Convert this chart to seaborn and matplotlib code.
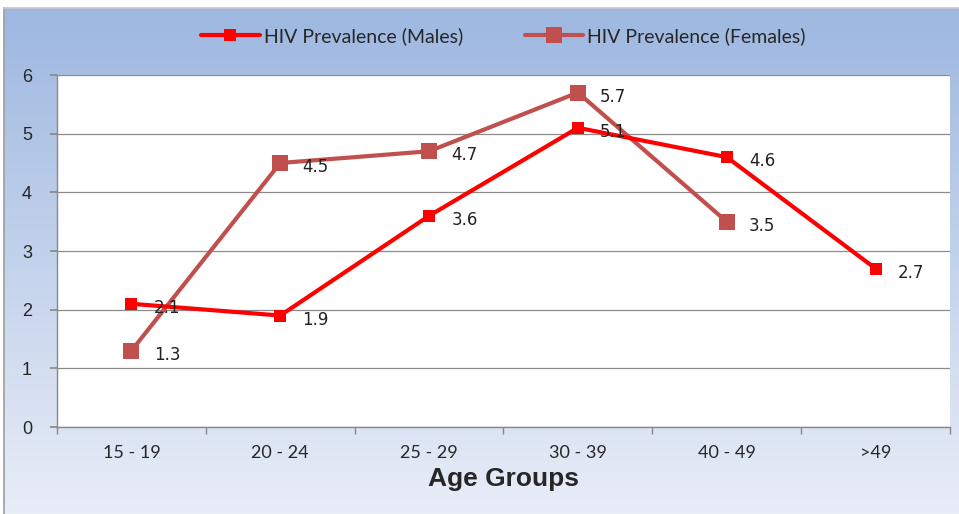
import numpy as np
import pandas as pd
import matplotlib
matplotlib.use("Agg")
import matplotlib.pyplot as plt
from matplotlib.ticker import FixedLocator
import seaborn as sns

# data
age_groups = ["15 - 19", "20 - 24", "25 - 29", "30 - 39", "40 - 49", ">49"]
males = [2.1, 1.9, 3.6, 5.1, 4.6, 2.7]
females = [1.3, 4.5, 4.7, 5.7, 3.5, np.nan]
y_ticks = [0, 1, 2, 3, 4, 5, 6]

MALE_COLOR = "#FF0000"
FEMALE_COLOR = "#C0504D"

sns.set_theme(style="white")
plt.rcParams["font.family"] = ["DejaVu Sans"]

fig = plt.figure(figsize=(9.59, 5.14), dpi=100)

# background gradient panel with a thin grey frame
bg = fig.add_axes([4 / 959, 0, 955 / 959, 506 / 514])
grad = np.linspace(0, 1, 256).reshape(-1, 1)
top = np.array([0.62, 0.72, 0.88])
bottom = np.array([0.91, 0.93, 0.97])
img = top + (bottom - top) * grad[..., None]
bg.imshow(img, aspect="auto", extent=[0, 1, 0, 1])
bg.set_xticks([])
bg.set_yticks([])
for s in bg.spines.values():
    s.set_visible(False)
bg.spines["left"].set_visible(True)
bg.spines["left"].set_color("#a0a0a0")
bg.spines["top"].set_visible(True)
bg.spines["top"].set_color("#c8c8c8")

ax = fig.add_axes([57 / 959, 87 / 514, 893 / 959, 352 / 514])
ax.set_facecolor("white")

df = pd.DataFrame({"age": range(len(age_groups)), "males": males, "females": females})

sns.lineplot(data=df, x="age", y="males", ax=ax, color=MALE_COLOR, lw=3,
             marker="s", markersize=9, markeredgewidth=0, label="HIV Prevalence (Males)",
             zorder=4)
sns.lineplot(data=df.dropna(), x="age", y="females", ax=ax, color=FEMALE_COLOR, lw=3,
             marker="s", markersize=12, markeredgewidth=0,
             label="HIV Prevalence (Females)", zorder=3)

for series in (males, females):
    for i, v in enumerate(series):
        if np.isnan(v):
            continue
        ax.annotate(f"{v}", (i, v), xytext=(16, -3), textcoords="offset points",
                    ha="left", va="center", fontsize=12, color="#222222", zorder=5)

ax.set_xlim(-0.5, len(age_groups) - 0.5)
ax.set_ylim(0, 6)
ax.set_yticks(y_ticks)
ax.set_yticklabels([str(t) for t in y_ticks], fontsize=13, family="Liberation Sans")
ax.set_xticks(range(len(age_groups)))
ax.set_xticklabels(age_groups, fontsize=13, family="Lato")
ax.xaxis.set_minor_locator(FixedLocator(np.arange(-0.5, len(age_groups), 1.0)))
ax.tick_params(axis="x", which="major", length=0, pad=13)
ax.tick_params(axis="x", which="minor", length=5, color="#888888", direction="out", bottom=True)
ax.tick_params(axis="y", length=5, color="#888888", direction="out", left=True, pad=13)

ax.yaxis.grid(True, color="#8c8c8c", lw=0.9)
ax.set_axisbelow(True)
for side in ("top", "right"):
    ax.spines[side].set_visible(False)
for side in ("left", "bottom"):
    ax.spines[side].set_color("#888888")
    ax.spines[side].set_linewidth(1)

ax.set_ylabel("")
ax.set_xlabel("Age Groups", fontsize=19, fontweight="bold", family="Liberation Sans", labelpad=4)

leg = ax.legend(loc="center", bbox_to_anchor=(0.5, 1.11), ncol=2, frameon=False,
                prop={"family": "Lato", "size": 14},
                handlelength=3.0, columnspacing=3.2, handletextpad=0.2)

fig.savefig("out.png", dpi=100)
